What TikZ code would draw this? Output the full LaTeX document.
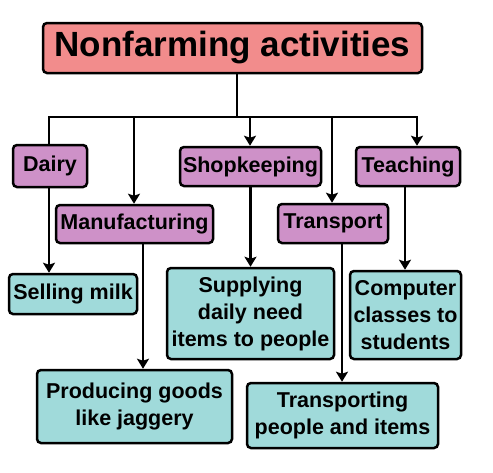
\documentclass[tikz,border=0pt]{standalone}
\usepackage{fontspec}
\setmainfont{Liberation Sans}
\usetikzlibrary{arrows.meta}
\definecolor{toppink}{RGB}{242,140,140}
\definecolor{midpurple}{RGB}{206,145,200}
\definecolor{lowteal}{RGB}{160,218,218}
\tikzset{
  box/.style={draw=black, line width=2.5pt, rounded corners=4pt, inner sep=0pt, align=center,
    font=\fontsize{21.5}{27}\selectfont\bfseries, text=black},
  topbox/.style={box, fill=toppink, font=\fontsize{35}{40}\selectfont\bfseries},
  midbox/.style={box, fill=midpurple},
  lowbox/.style={box, fill=lowteal},
  conn/.style={line width=2.8pt, black},
  arr/.style={conn, -{Stealth[length=10pt,width=12pt,inset=2pt]}}
}
\begin{document}
\begin{tikzpicture}[x=1pt,y=-1pt]
\useasboundingbox (0,0) rectangle (493,472);
\fill[white] (0,0) rectangle (493,472);
% nodes
\node[topbox, minimum width=379pt, minimum height=50pt] (top) at (232.5,48) {Nonfarming activities};
\node[midbox, minimum width=74pt, minimum height=42pt] (dairy) at (50,166) {Dairy};
\node[midbox, minimum width=141pt, minimum height=39pt] (shop) at (250.5,166.5) {Shopkeeping};
\node[midbox, minimum width=104pt, minimum height=39pt] (teach) at (408,166.5) {Teaching};
\node[midbox, minimum width=157pt, minimum height=38pt] (manu) at (134.5,224) {Manufacturing};
\node[midbox, minimum width=110pt, minimum height=39pt] (trans) at (333,223.5) {Transport};
\node[lowbox, minimum width=128pt, minimum height=40pt] (milk) at (73,294) {Selling milk};
\node[lowbox, minimum width=167pt, minimum height=91pt] (supp) at (250.5,313.5) {Supplying\\daily need\\items to people};
\node[lowbox, minimum width=111pt, minimum height=88pt] (comp) at (405.5,315) {Computer\\classes to\\students};
\node[lowbox, minimum width=195pt, minimum height=73pt] (prod) at (134.5,406.5) {Producing goods\\like jaggery};
\node[lowbox, minimum width=191pt, minimum height=65pt] (tport) at (342.5,415.5) {Transporting\\people and items};
% junction coordinates
\coordinate (hub) at (237,117);
\coordinate (barL) at (49,117);
\coordinate (barR) at (417,117);
\coordinate (manuIn) at (134,117);
\coordinate (shopIn) at (250,117);
\coordinate (transIn) at (332,117);
\coordinate (teachIn) at (417,117);
\coordinate (manuOut) at (143,0);
\coordinate (transOut) at (342,0);
\coordinate (teachOut) at (405,0);
\coordinate (dairyOut) at (49,0);
% connectors
\draw[conn] (top.south -| hub) -- (hub);
\draw[arr] (dairy.north -| barL) -- (barL) -- (barR) -- (teach.north -| teachIn);
\draw[arr] (manuIn) -- (manu.north -| manuIn);
\draw[arr] (shopIn) -- (shop.north -| shopIn);
\draw[arr] (transIn) -- (trans.north -| transIn);
\draw[arr] (dairy.south -| dairyOut) -- (milk.north -| dairyOut);
\draw[arr] (manu.south -| manuOut) -- (prod.north -| manuOut);
\draw[arr] (shop.south) -- (shop.south |- supp.north);
\draw[arr] (trans.south -| transOut) -- (tport.north -| transOut);
\draw[arr] (teach.south -| teachOut) -- (comp.north -| teachOut);
\end{tikzpicture}
\end{document}
